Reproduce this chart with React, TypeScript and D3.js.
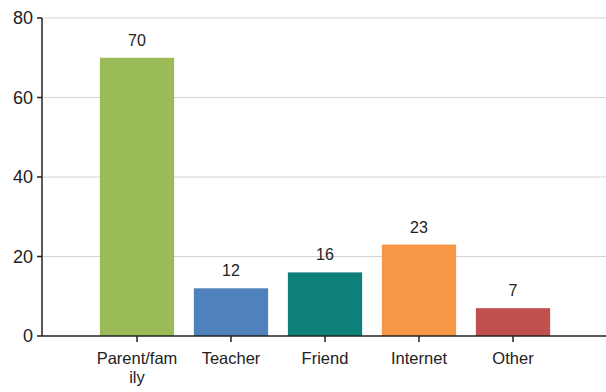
import React from "react";
import * as d3 from "d3";

const categories = ["Parent/family", "Teacher", "Friend", "Internet", "Other"];
const labelLines = [["Parent/fam", "ily"], ["Teacher"], ["Friend"], ["Internet"], ["Other"]];
const values = [70, 12, 16, 23, 7];
const colors = ["#9BBB59", "#4F81BD", "#0F7F7A", "#F79646", "#C0504D"];
const yTicks = [0, 20, 40, 60, 80];

const W = 606;
const H = 392;
const axisX = 42;
const y0 = 336;
const yTop = 18;

export default function App() {
  const x = d3.scaleBand<string>().domain(categories).range([90, 560]).paddingInner(0.21).paddingOuter(0.105);
  const y = d3.scaleLinear().domain([0, 80]).range([y0, yTop]);
  const font = "'Liberation Sans', Arial, sans-serif";
  return (
    <svg width={W} height={H} style={{ position: "absolute", left: 0, top: 0, background: "#fff" }} fontFamily={font}>
      {yTicks.filter((t) => t > 0).map((t) => (
        <line key={"g" + t} x1={axisX} x2={W} y1={y(t)} y2={y(t)} stroke="#d4d4d4" strokeWidth={1} />
      ))}
      {categories.map((c, i) => (
        <g key={c}>
          <rect x={x(c)} y={y(values[i])} width={x.bandwidth()} height={y0 - y(values[i])} fill={colors[i]} />
          <text x={x(c)! + x.bandwidth() / 2} y={y(values[i]) - 12} textAnchor="middle" fontSize={16} fill="#222">
            {values[i]}
          </text>
        </g>
      ))}
      <line x1={axisX} x2={axisX} y1={yTop} y2={y0} stroke="#222" strokeWidth={1.5} />
      <line x1={axisX} x2={W} y1={y0} y2={y0} stroke="#222" strokeWidth={1.5} />
      {yTicks.map((t) => (
        <g key={"t" + t}>
          <line x1={axisX - 5} x2={axisX} y1={y(t)} y2={y(t)} stroke="#222" strokeWidth={1.5} />
          <text x={axisX - 9} y={y(t) + 6} textAnchor="end" fontSize={18} fill="#222">
            {t}
          </text>
        </g>
      ))}
      {categories.map((c, i) => {
        const cx = x(c)! + x.bandwidth() / 2;
        return (
          <g key={"x" + c}>
            <line x1={cx} x2={cx} y1={y0} y2={y0 + 6} stroke="#222" strokeWidth={1.5} />
            {labelLines[i].map((l, j) => (
              <text key={j} x={cx} y={364 + j * 19} textAnchor="middle" fontSize={16.5} fill="#222">
                {l}
              </text>
            ))}
          </g>
        );
      })}
    </svg>
  );
}
